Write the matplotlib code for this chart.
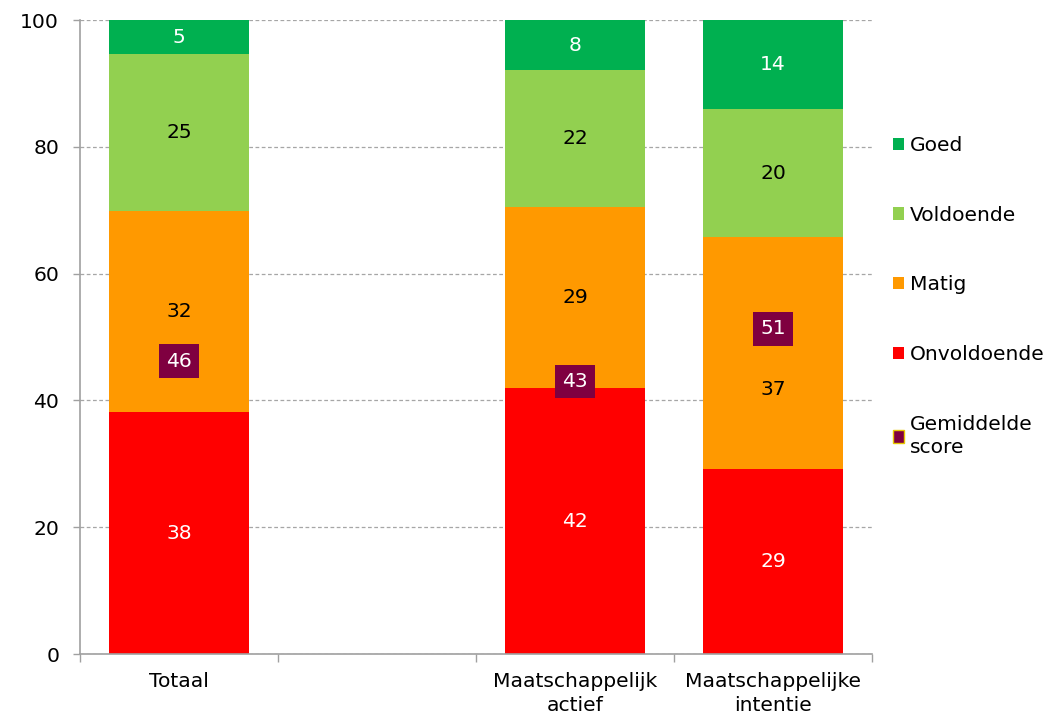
import matplotlib.pyplot as plt
from matplotlib.patches import Patch
import numpy as np

# data
categories = ["Totaal", "", "Maatschappelijk\nactief", "Maatschappelijke\nintentie"]
onvoldoende = [38.1, 0, 41.9, 29.2]
matig = [31.8, 0, 28.6, 36.6]
voldoende = [24.7, 0, 21.6, 20.1]
goed = [5.4, 0, 7.9, 14.1]
gemiddelde = [46.2, np.nan, 43.0, 51.3]
gem_labels = ["46", "", "43", "51"]

series_names = ["Onvoldoende", "Matig", "Voldoende", "Goed"]
series_colors = ["#FF0000", "#FF9900", "#92D050", "#00B050"]
text_colors = ["white", "black", "black", "white"]
gem_color = "#7F0040"
# label moved down in the original to clear the average marker
label_shift = {("Matig", 3): -5.8}

plt.rcParams['font.family'] = ['DejaVu Sans']
fs = 14.6

fig = plt.figure(figsize=(10.48, 7.15), dpi=100)
ax = fig.add_axes([80/1048, 61/715, 792/1048, 634/715])

x = np.arange(len(categories))
bottom = np.zeros(len(categories))
for vals, name, col, tcol in zip([onvoldoende, matig, voldoende, goed],
                                  series_names, series_colors, text_colors):
    vals = np.array(vals)
    ax.bar(x, vals, width=0.71, bottom=bottom, color=col, zorder=2)
    for xi, v, b in zip(x, vals, bottom):
        if v > 0:
            ax.text(xi, b + v/2 + label_shift.get((name, xi), 0), f"{v:.0f}",
                    ha='center', va='center', color=tcol, fontsize=fs, zorder=4)
    bottom += vals

for xi, g, lab in zip(x, gemiddelde, gem_labels):
    if not np.isnan(g):
        ax.text(xi, g, lab, ha='center', va='center', color='white', fontsize=fs,
                zorder=5, bbox=dict(boxstyle='square,pad=0.36', fc=gem_color, ec='none'))

ax.set_xlim(-0.5, 3.5)
ax.set_ylim(0, 100)
ax.set_yticks(range(0, 101, 20))
ax.yaxis.grid(True, linestyle=(0, (3, 2)), color='#A6A6A6', linewidth=0.9, zorder=0)
ax.set_axisbelow(True)

ax.set_xticks(np.arange(-0.5, 3.6, 1))
ax.set_xticklabels([])
ax.set_xticks(x, minor=True)
ax.set_xticklabels(categories, minor=True, fontsize=fs, linespacing=1.3)
ax.tick_params(axis='x', which='minor', length=0, pad=13)
ax.tick_params(axis='x', which='major', length=6, color='#A0A0A0', width=1)
ax.tick_params(axis='y', length=5, color='#A0A0A0', width=1, labelsize=fs, pad=10)

for s in ['top', 'right']:
    ax.spines[s].set_visible(False)
for s in ['left', 'bottom']:
    ax.spines[s].set_color('#A0A0A0')
    ax.spines[s].set_linewidth(1.2)

handles = [Patch(fc=c) for c in series_colors[::-1]]
handles.append(Patch(fc=gem_color, ec='#E6C700', lw=1))
labels = series_names[::-1] + ["Gemiddelde\nscore"]
leg = fig.legend(handles, labels, loc='center left', bbox_to_anchor=(893/1048, 0.585),
                 frameon=False, fontsize=fs, handlelength=0.55, handleheight=0.55,
                 handletextpad=0.3, labelspacing=2.5, borderpad=0, borderaxespad=0)
for t in leg.get_texts():
    t.set_linespacing(1.3)

fig.savefig("out.png", dpi=100)
